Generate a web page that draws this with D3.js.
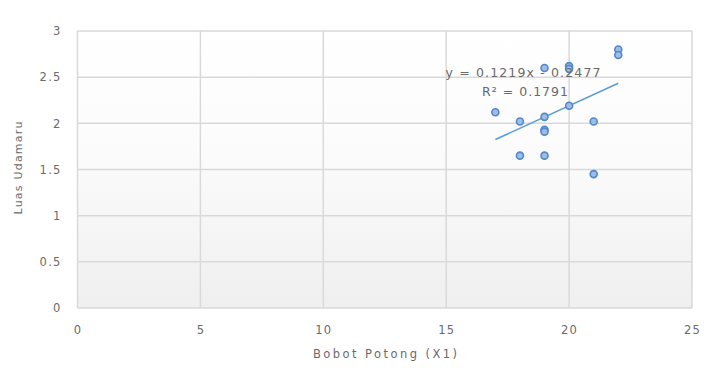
<!DOCTYPE html>
<html><head><meta charset="utf-8">
<script src="https://cdn.jsdelivr.net/npm/d3@7"></script>
<style>body{margin:0;background:#fff;}svg{display:block;font-family:"DejaVu Sans","Open Sans",sans-serif;}</style>
</head><body><svg id="c" width="711" height="381"></svg>
<script>
const xValues = [17, 18, 18, 19, 19, 19, 19, 19, 20, 20, 20, 21, 21, 22, 22];
const yValues = [2.12, 2.02, 1.65, 2.60, 2.07, 1.93, 1.91, 1.65, 2.62, 2.59, 2.19, 2.02, 1.45, 2.80, 2.74];
const xTicks = [0, 5, 10, 15, 20, 25];
const yTicks = [0, 0.5, 1, 1.5, 2, 2.5, 3];
const trendSlope = 0.1219, trendIntercept = -0.2477, trendR2 = 0.1791;
const xTitle = "Bobot Potong (X1)", yTitle = "Luas Udamaru";

const svg = d3.select("#c");
const m = {l:77.5, r:692, t:31, b:308};
const x = d3.scaleLinear().domain([0,25]).range([m.l, m.r]);
const y = d3.scaleLinear().domain([0,3]).range([m.b, m.t]);

const defs = svg.append("defs");
const g = defs.append("linearGradient").attr("id","bg").attr("x1",0).attr("y1",0).attr("x2",0).attr("y2",1);
g.append("stop").attr("offset","0%").attr("stop-color","#ffffff");
g.append("stop").attr("offset","45%").attr("stop-color","#fbfbfb");
g.append("stop").attr("offset","100%").attr("stop-color","#efefef");
svg.append("rect").attr("x",m.l).attr("y",m.t).attr("width",m.r-m.l).attr("height",m.b-m.t).attr("fill","url(#bg)");

const grid = svg.append("g").attr("stroke","#d9d9d9").attr("stroke-width",1.5);
yTicks.forEach(t=>grid.append("line").attr("x1",m.l).attr("x2",m.r).attr("y1",y(t)).attr("y2",y(t)));
xTicks.forEach(t=>grid.append("line").attr("y1",m.t).attr("y2",m.b).attr("x1",x(t)).attr("x2",x(t)));

const xa = svg.append("g").attr("transform",`translate(0,${m.b})`)
  .call(d3.axisBottom(x).tickValues(xTicks).tickSize(0).tickPadding(18).tickFormat(d3.format("")));
xa.select(".domain").remove();
const ya = svg.append("g").attr("transform",`translate(${m.l},0)`)
  .call(d3.axisLeft(y).tickValues(yTicks).tickSize(0).tickPadding(16).tickFormat(d3.format("")));
ya.select(".domain").remove();
svg.selectAll(".tick text").attr("fill","#6a6a6a").style("font-size","11.5px")
  .style("letter-spacing","1.2px").style("font-family","'DejaVu Sans',sans-serif");

svg.append("text").attr("x",385).attr("y",358).attr("text-anchor","middle").attr("fill","#6a6a6a")
  .style("font-size","11.5px").attr("textLength",144).attr("lengthAdjust","spacing").text(xTitle);
svg.append("text").attr("transform","translate(22,168) rotate(-90)").attr("text-anchor","middle").attr("fill","#6a6a6a")
  .style("font-size","11px").attr("textLength",93).attr("lengthAdjust","spacing").text(yTitle);

const x0 = d3.min(xValues), x1 = d3.max(xValues);
svg.append("line").attr("x1",x(x0)).attr("y1",y(trendSlope*x0+trendIntercept))
  .attr("x2",x(x1)).attr("y2",y(trendSlope*x1+trendIntercept))
  .attr("stroke","#5b9bd5").attr("stroke-width",1.5);

svg.append("g").selectAll("circle").data(xValues.map((v,i)=>[v,yValues[i]])).join("circle")
  .attr("cx",d=>x(d[0])).attr("cy",d=>y(d[1])).attr("r",3.5)
  .attr("fill","#9dbde6").attr("stroke","#5187cc").attr("stroke-width",1.6);

svg.append("text").attr("x",523).attr("y",77).attr("text-anchor","middle").attr("fill","#6a6a6a").style("font-size","12.5px")
  .attr("textLength",155).attr("lengthAdjust","spacing")
  .text(`y = ${trendSlope}x - ${Math.abs(trendIntercept)}`);
svg.append("text").attr("x",525).attr("y",96).attr("text-anchor","middle").attr("fill","#6a6a6a").style("font-size","12.5px")
  .attr("textLength",86).attr("lengthAdjust","spacing")
  .text(`R² = ${trendR2}`);
</script></body></html>
